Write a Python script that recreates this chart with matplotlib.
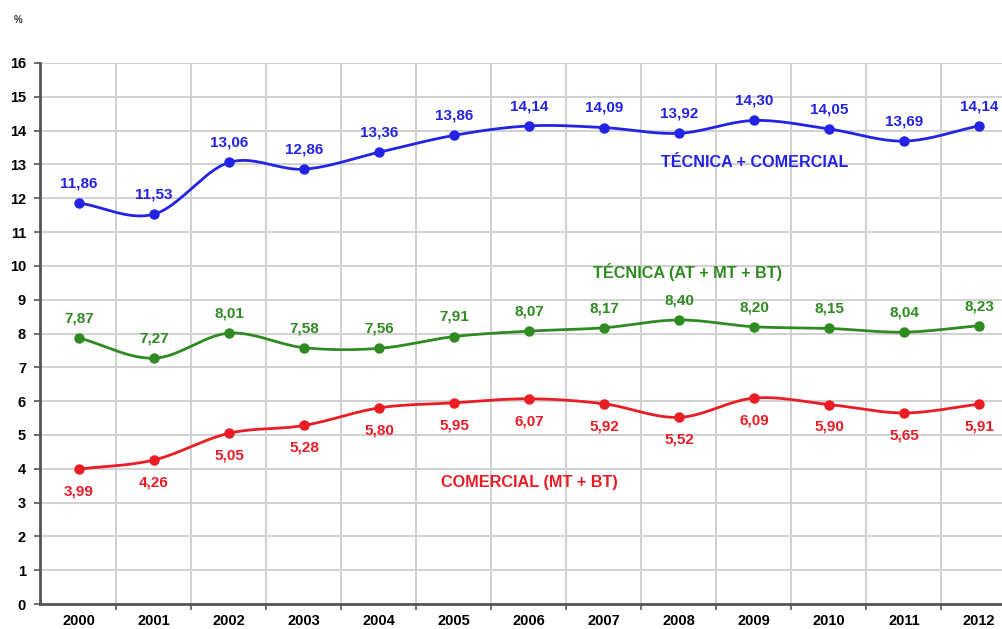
import numpy as np
import matplotlib
matplotlib.use('Agg')
import matplotlib.pyplot as plt

plt.rcParams['font.family'] = ['Liberation Sans', 'DejaVu Sans']

years = ['2000', '2001', '2002', '2003', '2004', '2005', '2006',
         '2007', '2008', '2009', '2010', '2011', '2012']
total = [11.86, 11.53, 13.06, 12.86, 13.36, 13.86, 14.14, 14.09, 13.92, 14.30, 14.05, 13.69, 14.14]
tecnica = [7.87, 7.27, 8.01, 7.58, 7.56, 7.91, 8.07, 8.17, 8.40, 8.20, 8.15, 8.04, 8.23]
comercial = [3.99, 4.26, 5.05, 5.28, 5.80, 5.95, 6.07, 5.92, 5.52, 6.09, 5.90, 5.65, 5.91]

BLUE = '#2323e6'
GREEN = '#2f8a22'
RED = '#ea1c24'


def smooth(x, y, n=20):
    """Catmull-Rom curve through the points, like Excel's smoothed line."""
    x = np.asarray(x, float)
    y = np.asarray(y, float)
    px = np.concatenate([[2 * x[0] - x[1]], x, [2 * x[-1] - x[-2]]])
    py = np.concatenate([[2 * y[0] - y[1]], y, [2 * y[-1] - y[-2]]])
    xs, ys = [], []
    t = np.linspace(0, 1, n, endpoint=False)
    for i in range(1, len(px) - 2):
        for p, out in ((px, xs), (py, ys)):
            p0, p1, p2, p3 = p[i - 1], p[i], p[i + 1], p[i + 2]
            out.extend(0.5 * (2 * p1 + (-p0 + p2) * t
                              + (2 * p0 - 5 * p1 + 4 * p2 - p3) * t ** 2
                              + (-p0 + 3 * p1 - 3 * p2 + p3) * t ** 3))
    xs.append(x[-1])
    ys.append(y[-1])
    return xs, ys


fig = plt.figure(figsize=(10.03, 6.29), dpi=100)
ax = fig.add_axes([40 / 1003, 25 / 629, 1 - 40 / 1003, 541 / 629])

x = np.arange(len(years))
series = [(total, BLUE, 0.58), (tecnica, GREEN, 0.58), (comercial, RED, -0.66)]
for vals, col, off in series:
    sx, sy = smooth(x, vals)
    ax.plot(sx, sy, color=col, lw=2, zorder=3)
    ax.plot(x, vals, 'o', color=col, ms=6.5, zorder=4)
    for xi, v in zip(x, vals):
        ax.text(xi, v + off, f'{v:.2f}'.replace('.', ','), color=col,
                fontsize=11, fontweight='bold', ha='center', va='center', zorder=5)

ax.text(9.01, 13.05, 'TÉCNICA + COMERCIAL', color=BLUE, fontsize=11.6,
        fontweight='bold', ha='center', va='center')
ax.text(8.12, 9.82, 'TÉCNICA (AT + MT + BT)', color=GREEN, fontsize=11.7,
        fontweight='bold', ha='center', va='center')
ax.text(6.01, 3.58, 'COMERCIAL (MT + BT)', color=RED, fontsize=11.7,
        fontweight='bold', ha='center', va='center')

ax.set_xlim(-0.52, 12.32)
ax.set_ylim(0, 16)
ax.set_yticks(range(0, 17))
ax.set_xticks(x)
ax.set_xticklabels(years)
ax.set_xticks(np.arange(0.5, 12, 1), minor=True)
ax.tick_params(axis='x', which='major', length=0, pad=7)
ax.tick_params(axis='x', which='minor', length=4, width=1.2, color='#555555')
ax.tick_params(axis='y', length=4, width=1.2, color='#555555', pad=6)
for lab in ax.get_xticklabels() + ax.get_yticklabels():
    lab.set_fontweight('bold')
    lab.set_fontsize(10.5)

ax.grid(False)
for v in range(1, 17):
    ax.axhline(v, color='#d0d0d0', lw=1.4, zorder=1)
for v in np.arange(0.5, 12.5, 1):
    ax.axvline(v, color='#d0d0d0', lw=1.4, zorder=1)

for s in ['top', 'right']:
    ax.spines[s].set_visible(False)
for s in ['left', 'bottom']:
    ax.spines[s].set_color('#555555')
    ax.spines[s].set_linewidth(2)

fig.text(18 / 1003, 1 - 20 / 629, '%', fontsize=7, fontweight='bold',
         ha='center', va='center', color='#333333')

fig.savefig('out.png', dpi=100)
